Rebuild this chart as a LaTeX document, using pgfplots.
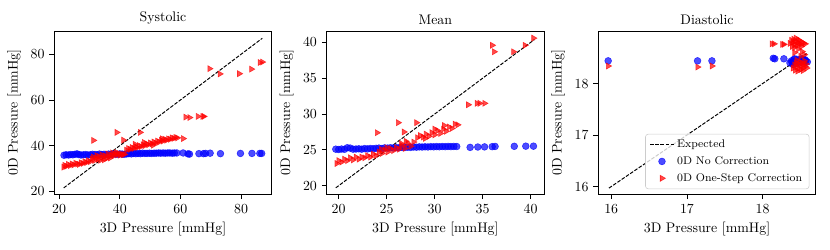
\documentclass[border=0pt]{standalone}
\usepackage{pgfplots}
\pgfplotsset{compat=1.18}
\pgfplotsset{
  myax/.style={
    scale only axis, width=156.5pt, height=117.6pt,
    tick align=outside, tick pos=left, major tick length=3.5pt,
    tick style={black, line width=0.6pt},
    axis line style={line width=0.6pt},
    xlabel={3D Pressure [mmHg]}, ylabel={0D Pressure [mmHg]},
    title style={yshift=-5pt},
    clip=true,
  },
  exp/.style={black, line width=0.7pt, dash pattern=on 2.6pt off 1.1pt},
  nocorr/.style={only marks, mark=*, mark size=2.45pt, color=blue, mark options={draw opacity=0.7, fill opacity=0.7}},
  onestep/.style={only marks, mark=triangle*, mark size=2.5pt, color=red, mark options={rotate=-90, draw opacity=0.7, fill opacity=0.7}},
}
\begin{document}
\begin{tikzpicture}
\path[use as bounding box] (-39.1pt,-39.4pt) rectangle (558.5pt,139.9pt);
% ---------------- Systolic
\begin{axis}[myax, at={(0pt,0pt)}, anchor=south west, title={Systolic},
  xmin=18.4, xmax=90.1, ymin=18.7, ymax=90.2,
  xtick={20,40,60,80}, ytick={20,40,60,80}]
\addplot[exp] coordinates {(21.5,21.5) (87,87)};
\addplot[nocorr] coordinates {
(21.6,35.8)(22.3,36.0)(23.1,35.9)(23.8,36.1)(24.5,36.0)(25.2,36.2)(25.9,36.4)(26.5,36.1)(27.2,35.9)(28.0,36.0)(28.8,36.1)(29.5,35.9)(30.3,36.0)(31.0,36.2)(31.8,36.1)(32.5,36.0)(33.3,36.3)(34.0,36.1)(34.8,36.2)(35.5,36.0)(36.3,36.3)(37.0,36.2)(37.8,36.4)(38.5,36.3)(39.3,36.2)(40.0,36.4)(40.8,36.3)(41.5,36.2)(42.3,36.4)(43.0,36.5)(43.8,36.4)(44.5,36.6)(45.3,36.5)(46.0,36.6)(46.8,36.5)(47.5,36.7)(48.3,36.6)(49.0,36.6)(49.8,36.7)(50.5,36.6)(51.3,36.7)(52.0,36.7)(52.8,36.8)(53.5,36.7)(54.3,36.8)(55.0,36.7)(55.8,36.8)(56.5,36.8)(57.3,36.7)(58.0,36.8)(58.8,36.8)
(60.9,36.8)(62.5,36.4)(63.0,36.3)(66.1,36.5)(67.6,36.5)(68.3,36.6)(69.8,36.7)(73.2,36.5)(79.8,36.6)(83.6,36.6)(86.2,36.6)(86.8,36.6)};
\addplot[onestep] coordinates {
(21.5,30.6)(21.8,31.4)(22.4,31.0)(23.0,31.8)(23.6,31.3)(24.2,32.0)(24.8,31.6)(25.4,32.3)(26.0,32.0)(26.6,31.8)(27.2,32.5)(27.8,32.2)(28.4,33.0)(29.0,32.6)(29.6,33.4)(30.2,33.0)(30.8,34.2)(31.2,35.0)(31.6,33.5)(32.0,34.6)(32.4,35.6)(32.8,34.0)(33.2,35.2)(33.6,33.6)(34.0,36.0)(34.4,34.8)(34.8,33.8)(35.2,35.5)(35.6,34.4)(36.0,36.4)(36.4,35.2)(36.8,34.6)(37.2,36.0)(37.6,36.8)(38.0,35.6)(38.4,36.4)(38.8,37.0)(39.2,36.0)(39.6,36.6)(40.0,35.8)(40.5,36.4)(41.0,36.0)(41.5,36.2)
(42.2,38.0)(42.8,38.8)(43.4,38.4)(44.0,39.2)(44.6,38.8)(45.2,39.6)(45.8,39.2)(46.4,40.0)(47.0,39.6)(47.6,40.4)(48.2,40.0)(48.8,40.8)(49.4,40.4)(50.0,41.2)(50.6,40.8)(51.2,41.6)(51.8,41.2)(52.4,42.0)(53.0,41.6)(53.6,42.4)(54.2,42.0)(54.8,42.8)(55.4,42.4)(56.0,43.0)(56.6,42.8)(57.2,43.4)(57.8,43.2)(58.4,43.6)(59.0,43.4)(45.0,40.6)(48.0,41.4)(51.0,40.2)(54.0,43.0)
(31.3,42.3)(39.0,45.8)(41.2,42.4)(46.7,45.8)(60.9,43.1)(61.7,52.5)(63.0,52.3)(65.8,52.8)(67.3,52.8)(67.7,52.8)(69.6,73.7)(73.0,71.4)(79.4,71.5)(83.4,73.5)(86.2,76.4)(87.0,76.6)};
\end{axis}
% ---------------- Mean
\begin{axis}[myax, at={(196.1pt,0pt)}, anchor=south west, title={Mean},
  xmin=18.75, xmax=41.4, ymin=18.8, ymax=41.6,
  xtick={20,25,30,35,40}, ytick={20,25,30,35,40}]
\addplot[exp] coordinates {(19.7,19.7) (40.4,40.4)};
\addplot[nocorr] coordinates {
(19.7,25.10)(20.0,25.05)(20.3,25.12)(20.6,25.08)(20.9,25.30)(21.2,25.25)(21.5,25.10)(21.8,25.12)(22.1,25.15)(22.4,25.10)(22.7,25.18)(23.0,25.14)(23.3,25.20)(23.6,25.16)(23.9,25.22)(24.2,25.25)(24.5,25.20)(24.8,25.28)(25.1,25.25)(25.4,25.30)(25.7,25.27)(26.0,25.32)(26.3,25.30)(26.6,25.35)(26.9,25.33)(27.2,25.38)(27.5,25.35)(27.8,25.40)(28.1,25.38)(28.4,25.42)(28.7,25.40)(29.0,25.43)(29.3,25.41)(29.6,25.45)(29.9,25.43)(30.2,25.46)(30.5,25.44)(30.8,25.47)(31.1,25.45)(31.4,25.48)(31.7,25.46)(32.0,25.48)(32.3,25.47)
(33.7,25.35)(34.5,25.40)(35.2,25.42)(36.0,25.45)(36.3,25.48)(38.3,25.50)(39.5,25.52)(40.3,25.52)};
\addplot[onestep] coordinates {
(19.8,23.1)(20.0,23.5)(20.3,23.3)(20.6,23.7)(20.9,23.5)(21.2,23.9)(21.5,23.6)(21.8,24.0)(22.1,23.7)(22.4,24.0)(22.7,23.9)(23.0,24.2)(23.3,24.0)(23.6,24.4)(23.9,24.2)(24.2,24.7)(24.5,24.5)(24.8,25.0)(25.1,24.7)(25.4,25.2)(25.7,24.9)(26.0,25.3)(26.3,25.1)(26.6,25.6)(26.9,25.2)(27.2,25.9)(27.5,25.5)(27.8,26.1)(25.0,25.3)(24.4,25.1)(26.5,25.9)(27.0,26.2)
(28.2,26.7)(28.5,27.0)(28.8,26.8)(29.1,27.2)(29.4,26.9)(29.7,27.4)(30.0,27.1)(30.3,27.7)(30.6,27.3)(30.9,27.9)(31.2,27.6)(31.5,28.2)(31.8,28.0)(32.1,28.6)(32.4,28.5)(30.0,27.9)(29.0,26.6)(31.0,28.4)
(24.0,27.4)(26.2,28.8)(26.8,27.5)(28.1,28.8)(33.5,31.3)(34.4,31.5)(34.7,31.5)(35.2,31.5)(36.0,39.6)(36.2,38.7)(38.2,38.7)(39.4,39.6)(40.3,40.6)};
\end{axis}
% ---------------- Diastolic
\begin{axis}[myax, at={(391.7pt,0pt)}, anchor=south west, title={Diastolic},
  xmin=15.83, xmax=18.7, ymin=15.85, ymax=19.02,
  xtick={16,17,18}, ytick={16,17,18},
  legend cell align=left,
  legend style={at={(0.971,0.032)}, anchor=south east, font=\footnotesize,
    draw=black!20, rounded corners=2pt, fill=white, fill opacity=0.8, text opacity=1,
    inner xsep=3pt, inner ysep=2pt, row sep=1pt}]
\addplot[exp] coordinates {(15.97,15.97) (18.58,18.58)};
\addlegendentry{Expected}
\addplot[nocorr] coordinates {
(15.96,18.44)(17.14,18.44)(17.33,18.44)(18.14,18.49)(18.16,18.48)(18.28,18.48)
(18.36,18.40)(18.38,18.44)(18.40,18.37)(18.41,18.46)(18.43,18.42)(18.44,18.39)(18.45,18.47)(18.47,18.43)(18.48,18.40)(18.49,18.46)(18.50,18.44)(18.51,18.48)(18.52,18.42)(18.53,18.45)(18.54,18.47)(18.55,18.43)(18.56,18.46)(18.57,18.44)(18.59,18.42)(18.42,18.48)(18.39,18.41)};
\addlegendentry{0D No Correction}
\addplot[onestep] coordinates {
(15.96,18.34)(17.14,18.32)(17.33,18.34)(18.12,18.77)(18.15,18.77)(18.26,18.76)(18.28,18.76)
(18.36,18.78)(18.38,18.84)(18.39,18.72)(18.40,18.80)(18.41,18.86)(18.42,18.76)(18.43,18.82)(18.44,18.88)(18.45,18.74)(18.46,18.80)(18.47,18.85)(18.48,18.78)(18.49,18.83)(18.50,18.76)(18.52,18.80)(18.54,18.78)(18.56,18.77)(18.42,18.70)(18.51,18.72)
(18.42,18.60)(18.47,18.67)(18.52,18.62)(18.55,18.56)(18.50,18.53)
(18.40,18.30)(18.42,18.36)(18.43,18.26)(18.44,18.40)(18.45,18.32)(18.46,18.24)(18.47,18.38)(18.48,18.30)(18.49,18.42)(18.50,18.27)(18.51,18.35)(18.52,18.40)(18.53,18.30)(18.54,18.36)(18.55,18.44)(18.56,18.33)(18.57,18.38)(18.58,18.30)(18.45,18.45)(18.53,18.25)};
\addlegendentry{0D One-Step Correction}
\end{axis}
\end{tikzpicture}
\end{document}
